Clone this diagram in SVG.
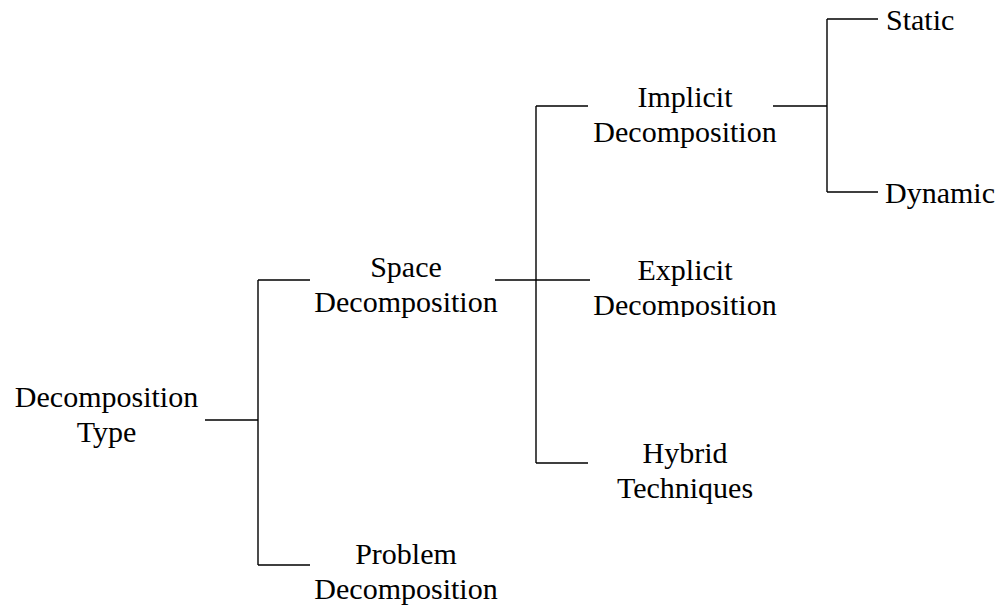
<svg xmlns="http://www.w3.org/2000/svg" width="1000" height="607" viewBox="0 0 1000 607">
  <style>
    .lbl { font-family: "Liberation Serif", "Times New Roman", serif; font-size: 30px; fill: #000; }
    .mid { text-anchor: middle; }
    .edge { stroke: #000; stroke-width: 1.4; fill: none; }
  </style>
  <defs>
    <clipPath id="cut-explicit">
      <rect x="560" y="240" width="260" height="77"/>
    </clipPath>
  </defs>
  <rect width="1000" height="607" fill="#fff"/>

  <!-- tree connectors -->
  <g id="connectors">
    <path class="edge" d="M205 420 H258 M258 280 V565 M258 280 H310 M258 565 H310"/>
    <path class="edge" d="M495 280 H590 M536 106 V463 M536 106 H588 M536 463 H588"/>
    <path class="edge" d="M773 106 H827 M827 19 V192 M827 19 H878 M827 192 H878"/>
  </g>

  <g id="decomposition-type">
    <text class="lbl mid" x="106.5" y="407">Decomposition</text>
    <text class="lbl mid" x="106.5" y="442">Type</text>
  </g>
  <g id="space-decomposition">
    <text class="lbl mid" x="406" y="277">Space</text>
    <text class="lbl mid" x="406" y="312">Decomposition</text>
  </g>
  <g id="problem-decomposition">
    <text class="lbl mid" x="406" y="564">Problem</text>
    <text class="lbl mid" x="406" y="599">Decomposition</text>
  </g>
  <g id="implicit-decomposition">
    <text class="lbl mid" x="685" y="107">Implicit</text>
    <text class="lbl mid" x="685" y="142">Decomposition</text>
  </g>
  <g id="explicit-decomposition" clip-path="url(#cut-explicit)">
    <text class="lbl mid" x="685" y="280">Explicit</text>
    <text class="lbl mid" x="685" y="315">Decomposition</text>
  </g>
  <g id="hybrid-techniques">
    <text class="lbl mid" x="685" y="463">Hybrid</text>
    <text class="lbl mid" x="685" y="498">Techniques</text>
  </g>
  <g id="static">
    <text class="lbl" x="886" y="30">Static</text>
  </g>
  <g id="dynamic">
    <text class="lbl" x="885" y="203">Dynamic</text>
  </g>
</svg>
